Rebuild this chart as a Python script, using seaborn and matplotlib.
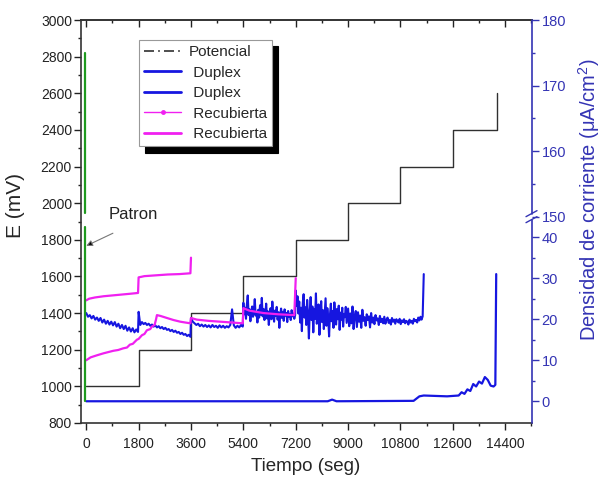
import numpy as np
import matplotlib
matplotlib.use('Agg')
import matplotlib.pyplot as plt
import seaborn as sns
from matplotlib.lines import Line2D
from matplotlib.ticker import FixedLocator, MultipleLocator, FormatStrFormatter

# ---- data ----
# applied potential steps, mV
pot_t = [0, 1800, 3600, 5400, 7200, 9000, 10800, 12600, 14100]
pot_E = [1000, 1200, 1400, 1600, 1800, 2000, 2200, 2400, 2600]

# Duplex 1, current density (uA/cm2), one list per potential step
dup1_s1 = [21.5, 20.6, 21.0, 20.2, 20.8, 19.9, 20.4, 19.6, 20.3, 19.2, 19.9, 18.9, 19.6, 18.7, 19.4,
           18.5, 19.3, 18.2, 18.9, 17.8, 18.6, 17.6, 18.4, 17.2, 18.0, 17.0, 17.8, 16.8, 17.5, 16.9]
dup1_s2 = [21.8, 18.6, 19.3, 18.8, 19.1, 18.6, 18.9, 18.4, 18.7, 18.2, 18.5, 18.0, 18.3, 17.8, 18.1, 17.6,
           17.9, 17.4, 17.6, 17.1, 17.4, 16.9, 17.2, 16.7, 16.9, 16.4, 16.7, 16.2, 16.4, 15.9, 16.2, 15.7]
dup1_s3 = [20.3, 19.4, 19.0, 18.6, 18.9, 18.3, 18.7, 18.2, 18.6, 18.1, 18.5, 18.0, 18.6, 18.1, 18.4,
           17.9, 18.5, 18.0, 18.4, 17.9, 18.3, 18.0, 18.6, 22.4, 18.5, 17.9, 18.4, 18.0, 18.6, 18.2]
dup1_s4 = [24.0, 21.2, 22.8, 20.1, 23.6, 25.8, 21.0, 22.4, 19.5, 21.8, 23.1, 20.6, 22.0, 24.9, 20.9,
           21.6, 19.2, 22.3, 20.4, 23.4, 21.1, 25.2, 20.7, 22.5, 19.8, 21.3, 23.8, 20.2, 21.9, 18.6,
           21.4, 22.7, 20.0, 24.3, 21.5, 19.4, 22.1, 20.8, 23.0, 19.9, 21.7, 17.9, 21.2, 22.6, 20.3,
           21.8, 19.6, 22.4, 20.9, 21.5, 19.3, 22.0, 20.6, 21.3, 19.8, 22.2, 20.7, 21.4, 20.1, 21.0]
dup1_s5 = [27.0, 23.2, 25.6, 21.4, 24.3, 19.2, 22.8, 17.1, 23.9, 26.1, 20.4, 22.9, 18.6, 24.7, 21.2,
           15.3, 21.9, 25.4, 19.8, 23.1, 16.8, 22.4, 20.1, 26.3, 18.9, 21.7, 23.6, 16.2, 20.9, 24.4,
           19.3, 22.2, 17.6, 21.5, 25.1, 18.4, 22.7, 20.3, 15.8, 21.1, 23.8, 19.5, 22.0, 17.9, 24.1,
           20.6, 18.7, 22.5, 20.0, 23.3, 17.4, 21.6, 19.9, 22.8, 18.2, 21.3, 20.5, 23.0, 19.1, 21.2]
dup1_s6 = [22.6, 18.3, 21.4, 19.0, 23.1, 17.6, 20.8, 22.0, 18.1, 21.7, 19.4, 20.9, 17.9, 22.3, 19.6,
           20.5, 18.4, 21.2, 19.8, 20.7, 18.0, 21.5, 19.2, 20.4, 18.8, 21.0, 19.7, 20.2, 18.6, 20.8,
           19.3, 20.1, 19.0, 20.6, 18.9, 19.9, 20.4, 19.1, 19.8, 18.7, 20.3, 19.4, 19.9, 18.9, 20.0,
           19.5, 19.2, 20.1, 18.8, 19.7, 19.3, 20.0, 19.0, 19.6, 19.4, 18.7, 19.9, 19.2, 19.6, 18.9,
           20.1, 19.5, 19.8, 19.2, 20.4, 19.7, 20.6, 19.9, 20.7, 31.0]
dup1_spans = [(0, 1780), (1800, 3580), (3600, 5380), (5400, 7180), (7200, 8980), (9000, 11600)]

# Duplex 2
dup2_t = [0, 8300, 8450, 8600, 11250, 11450, 11600, 12000, 12400, 12800, 12900, 13000, 13100, 13200, 13300,
          13400, 13500, 13600, 13700, 13800, 13900, 14000, 14060, 14090]
dup2_v = [0, 0, 0.4, 0, 0.1, 1.2, 1.4, 1.3, 1.2, 1.4, 2.2, 1.8, 2.9, 2.5, 4.2,
          3.6, 4.8, 4.3, 5.9, 5.2, 3.8, 3.6, 4.0, 31.0]

# Recubierta 1
rec1_t = [0, 100, 300, 600, 900, 1200, 1500, 1780, 1800, 2000, 2400, 2800, 3200, 3580, 3600]
rec1_v = [24.6, 25.0, 25.3, 25.6, 25.8, 26.0, 26.2, 26.4, 30.2, 30.5, 30.7, 30.9, 31.0, 31.2, 35.0]

# Recubierta 2
rec2_t = [0, 150, 366, 600, 930, 1100, 1270, 1400, 1500, 1600, 1740, 1800, 1915, 2000, 2085, 2200, 2257,
          2350, 2400, 2430, 2550, 2773, 3000, 3230, 3400, 3580, 3600, 3800, 4200, 4600, 5000, 5380,
          5400, 5600, 6090, 6600, 7150, 7200]
rec2_v = [10.0, 10.7, 11.2, 11.7, 12.3, 12.5, 12.9, 13.1, 13.8, 14.0, 15.0, 15.2, 16.1, 16.4, 17.3, 17.6, 18.2,
          18.6, 20.0, 21.0, 20.8, 20.3, 19.8, 19.4, 19.2, 19.0, 20.3, 19.9, 19.6, 19.4, 19.2, 19.0,
          22.7, 22.1, 21.5, 21.2, 21.0, 30.0]

# Patron (before and after the axis break)
pat_t = [-30, -30]
pat_low = [0, 42.5]
pat_high = [150.5, 175]

legend_labels = ['Potencial', ' Duplex', ' Duplex', ' Recubierta', ' Recubierta']

# ---- styles ----
BLUE = '#1616e0'
MAG = '#f020f0'
GREEN = '#1f9a1f'
AXBLUE = '#3434b4'
BLACK = '#303030'

sns.set_style('ticks')
plt.rcParams['font.family'] = ['Liberation Sans', 'DejaVu Sans']
plt.rcParams['mathtext.fontset'] = 'custom'
plt.rcParams['mathtext.rm'] = 'Liberation Sans'
plt.rcParams['mathtext.default'] = 'regular'

# broken right axis: 45..150 squeezed out
LOW_TOP, HIGH_BOT, K, EPS = 45.0, 150.0, 1.598, 1e-6


def fwd(v):
    v = np.asarray(v, dtype=float)
    mid = LOW_TOP + (v - LOW_TOP) * EPS
    up = LOW_TOP + (HIGH_BOT - LOW_TOP) * EPS + (v - HIGH_BOT) * K
    return np.where(v <= LOW_TOP, v, np.where(v >= HIGH_BOT, up, mid))


def inv(u):
    u = np.asarray(u, dtype=float)
    ub = LOW_TOP + (HIGH_BOT - LOW_TOP) * EPS
    mid = LOW_TOP + (u - LOW_TOP) / EPS
    up = HIGH_BOT + (u - ub) / K
    return np.where(u <= LOW_TOP, u, np.where(u >= ub, up, mid))


fig = plt.figure(figsize=(6.02, 4.84), dpi=100)
ax = fig.add_axes([81 / 602, 1 - 423 / 484, 451 / 602, 403 / 484])
ax2 = ax.twinx()

# potential on left axis
sns.lineplot(x=pot_t, y=pot_E, ax=ax, color=BLACK, lw=1.0, drawstyle='steps-post',
             estimator=None, sort=False)

ax2.set_yscale('function', functions=(fwd, inv))

dup1_t = np.concatenate([np.linspace(a, b, len(v)) for (a, b), v in
                         zip(dup1_spans, [dup1_s1, dup1_s2, dup1_s3, dup1_s4, dup1_s5, dup1_s6])])
dup1_v = np.concatenate([dup1_s1, dup1_s2, dup1_s3, dup1_s4, dup1_s5, dup1_s6])

sns.lineplot(x=dup1_t, y=dup1_v, ax=ax2, color=BLUE, lw=1.5, estimator=None, sort=False)
sns.lineplot(x=dup2_t, y=dup2_v, ax=ax2, color=BLUE, lw=1.6, estimator=None, sort=False)
sns.lineplot(x=rec1_t, y=rec1_v, ax=ax2, color=MAG, lw=1.6, estimator=None, sort=False)
sns.lineplot(x=rec2_t, y=rec2_v, ax=ax2, color=MAG, lw=1.6, estimator=None, sort=False)
sns.lineplot(x=pat_t, y=pat_low, ax=ax2, color=GREEN, lw=1.6, estimator=None, sort=False)
sns.lineplot(x=pat_t, y=pat_high, ax=ax2, color=GREEN, lw=1.6, estimator=None, sort=False)

# left / bottom axes
ax.set_xlim(-180, 15320)
ax.set_ylim(800, 3000)
ax.set_xticks(range(0, 14401, 1800))
ax.xaxis.set_minor_locator(MultipleLocator(900))
ax.set_yticks(range(800, 3001, 200))
ax.yaxis.set_minor_locator(MultipleLocator(100))
ax.tick_params(which='major', direction='out', length=5, width=1, labelsize=10, colors='#222222')
ax.tick_params(which='minor', direction='out', length=2.5, width=1, colors='#222222')
ax.tick_params(axis='x', labelsize=10, pad=5)
ax.tick_params(axis='y', pad=1.5)
for s in ['left', 'bottom', 'top']:
    ax.spines[s].set_linewidth(1.2)
    ax.spines[s].set_color('#333333')
ax.spines['right'].set_visible(False)

top = ax.secondary_xaxis('top')
top.set_xticks(range(0, 14401, 1800))
top.xaxis.set_minor_locator(MultipleLocator(900))
top.tick_params(which='major', direction='in', length=5, width=1, labeltop=False, colors='#222222')
top.tick_params(which='minor', direction='in', length=2.5, width=1, colors='#222222')
top.spines['top'].set_linewidth(1.2)
top.spines['top'].set_color('#333333')

# right broken axis
ax2.set_ylim(-5.3, 180)
ax2.yaxis.set_major_locator(FixedLocator([0, 10, 20, 30, 40, 150, 160, 170, 180]))
ax2.yaxis.set_minor_locator(FixedLocator([5, 15, 25, 35, 155, 165, 175]))
ax2.yaxis.set_major_formatter(FormatStrFormatter('%d'))
ax2.tick_params(which='major', direction='out', length=5, width=1, labelsize=10.5, colors=AXBLUE, pad=2)
ax2.tick_params(which='minor', direction='out', length=2.5, width=1, colors=AXBLUE)
for s in ax2.spines.values():
    s.set_visible(False)

yb = (LOW_TOP + 5.3) / (fwd(180.0) + 5.3)
px, py = 1 / 451, 1 / 403
ax2.plot([1, 1], [0, yb - 3 * py], transform=ax2.transAxes, color=AXBLUE, lw=1.2, clip_on=False)
ax2.plot([1, 1], [yb + 3 * py, 1], transform=ax2.transAxes, color=AXBLUE, lw=1.2, clip_on=False)
for off in (-3, 3):
    ax2.plot([1 - 6 * px, 1 + 5 * px], [yb + (off - 3) * py, yb + (off + 3) * py],
             transform=ax2.transAxes, color=AXBLUE, lw=1.0, clip_on=False)

# labels
ax.set_xlabel('Tiempo (seg)', fontsize=13.5)
ax.xaxis.set_label_coords(0.497, -0.088)
ax.set_ylabel('E (mV)', fontsize=15)
ax.yaxis.set_label_coords(-0.125, 0.54)
ax2.set_ylabel('Densidad de corriente (μA/cm$^{2}$)', fontsize=14.5, color=AXBLUE)
ax2.yaxis.set_label_coords(1.098, 0.553)

# Patron annotation
ax.text(1615, 1936, 'Patron', fontsize=12, ha='center', va='center', color='#222222')
ax.annotate('', xy=(0, 1767), xytext=(917, 1836),
            arrowprops=dict(arrowstyle='-|>', ec='#777777', fc='black', lw=0.8, mutation_scale=9,
                            shrinkA=0, shrinkB=0))

# legend
handles = [
    Line2D([], [], color=BLACK, lw=1.2, ls=(0, (6, 2.5, 1, 2.5))),
    Line2D([], [], color=BLUE, lw=2),
    Line2D([], [], color=BLUE, lw=2),
    Line2D([], [], color=MAG, lw=1.0, marker='o', markersize=2.5),
    Line2D([], [], color=MAG, lw=2),
]
leg = ax2.legend(handles, legend_labels, loc='upper left', bbox_to_anchor=(139 / 602, 1 - 40 / 484),
                 bbox_transform=fig.transFigure, fontsize=11, frameon=True, fancybox=False,
                 shadow={'ox': 4.5, 'oy': -4.5, 'color': 'black', 'alpha': 1},
                 borderaxespad=0, handlelength=2.4, labelspacing=0.42, borderpad=0.35,
                 handletextpad=0.5)
leg.get_frame().set_edgecolor('#999999')
leg.get_frame().set_linewidth(0.8)
leg.get_frame().set_alpha(1)

fig.savefig('out.png', dpi=100)
